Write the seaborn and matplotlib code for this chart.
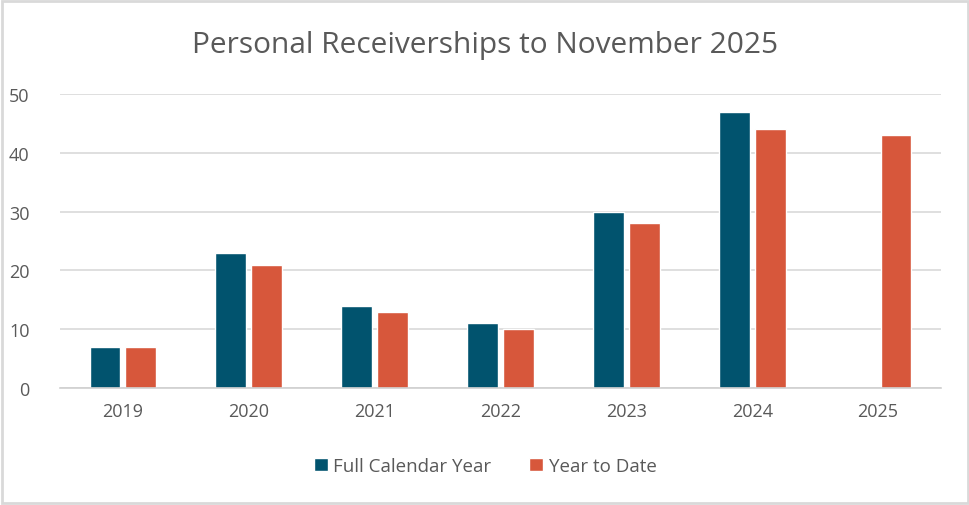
import matplotlib
matplotlib.use("Agg")
import matplotlib.pyplot as plt
import seaborn as sns
import pandas as pd
import numpy as np

# %% data
years = ["2019", "2020", "2021", "2022", "2023", "2024", "2025"]
full_year = [7, 23, 14, 11, 30, 47, np.nan]
year_to_date = [7, 21, 13, 10, 28, 44, 43]
series_names = ["Full Calendar Year", "Year to Date"]
colors = ["#01536E", "#D7573B"]

df = pd.DataFrame({
    "Year": years * 2,
    "Series": [series_names[0]] * len(years) + [series_names[1]] * len(years),
    "Count": full_year + year_to_date,
})

# %% plot
sns.set_style("white")
plt.rcParams["font.family"] = ["Open Sans", "DejaVu Sans"]

fig = plt.figure(figsize=(9.7, 5.06), dpi=100)
ax = fig.add_axes([60 / 970, 1 - 389 / 506, 881 / 970, 294 / 506])

sns.barplot(data=df, x="Year", y="Count", hue="Series", palette=colors,
            saturation=1, width=0.57, gap=0.14, ax=ax, legend=True)

ax.set_ylim(0, 50)
ax.set_yticks(range(0, 51, 10))
ax.set_xlim(-0.5, len(years) - 0.5)
ax.yaxis.grid(True, color="#d9d9d9", linewidth=1.2)
ax.set_axisbelow(True)
for s in ["top", "right", "left"]:
    ax.spines[s].set_visible(False)
ax.spines["bottom"].set_color("#d0d0d0")
ax.spines["bottom"].set_linewidth(1.2)
ax.tick_params(axis="both", length=0, labelsize=13, labelcolor="#595959", pad=10)
ax.tick_params(axis="y", pad=22)
ax.set_xlabel("")
ax.set_ylabel("")

fig.text(0.5, 1 - 45 / 506, "Personal Receiverships to November 2025",
         ha="center", va="center", fontsize=21.5, color="#595959")

handles, labels = ax.get_legend_handles_labels()
ax.get_legend().remove()
fig.legend(handles, labels, loc="center", bbox_to_anchor=(0.5, 1 - 467 / 506),
           ncol=2, frameon=False, fontsize=13.5, labelcolor="#595959",
           handlelength=0.75, handleheight=0.75, handletextpad=0.3, columnspacing=2.0)

# border around figure
fig.patches.append(plt.Rectangle((0.002, 0.003), 0.996, 0.994, transform=fig.transFigure,
                                 fill=False, edgecolor="#d9d9d9", linewidth=2))

fig.savefig("out.png", dpi=100)
